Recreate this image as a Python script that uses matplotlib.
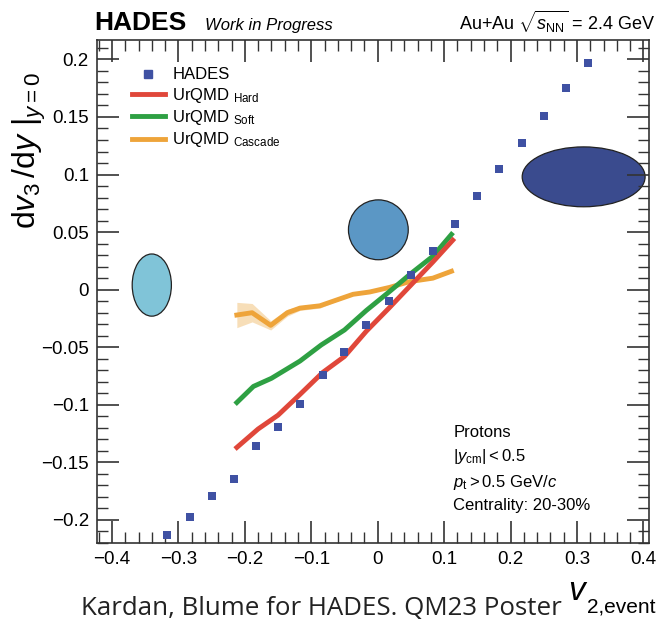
import numpy as np
import matplotlib
matplotlib.use("Agg")
import matplotlib.pyplot as plt
from matplotlib.patches import Ellipse
from matplotlib.lines import Line2D
from matplotlib.ticker import MultipleLocator

plt.rcParams['font.family'] = ['Liberation Sans', 'DejaVu Sans']
plt.rcParams['mathtext.fontset'] = 'custom'
plt.rcParams['mathtext.rm'] = 'Liberation Sans'
plt.rcParams['mathtext.it'] = 'Liberation Sans:italic'
plt.rcParams['mathtext.bf'] = 'Liberation Sans:bold'

# HADES data points
hades_x = [-0.317, -0.283, -0.25, -0.217, -0.183, -0.15, -0.117, -0.083, -0.05, -0.017,
           0.017, 0.05, 0.083, 0.117, 0.15, 0.183, 0.217, 0.25, 0.283, 0.317]
hades_y = [-0.213, -0.197, -0.179, -0.164, -0.136, -0.119, -0.099, -0.074, -0.054, -0.031,
           -0.010, 0.013, 0.034, 0.057, 0.081, 0.105, 0.127, 0.151, 0.175, 0.197]

# UrQMD curves
hard_x = [-0.212, -0.18, -0.15, -0.117, -0.083, -0.05, -0.017, 0.017, 0.05, 0.083, 0.113]
hard_y = [-0.137, -0.121, -0.109, -0.091, -0.072, -0.058, -0.036, -0.016, 0.004, 0.024, 0.043]
soft_x = [-0.212, -0.187, -0.16, -0.117, -0.085, -0.05, -0.017, 0.017, 0.05, 0.083, 0.111]
soft_y = [-0.098, -0.084, -0.077, -0.062, -0.048, -0.035, -0.018, -0.002, 0.014, 0.029, 0.048]
casc_x = [-0.212, -0.189, -0.161, -0.136, -0.117, -0.087, -0.062, -0.037, -0.012, 0.018, 0.048, 0.083, 0.111]
casc_y = [-0.022, -0.020, -0.031, -0.020, -0.016, -0.014, -0.009, -0.004, -0.002, 0.002, 0.007, 0.010, 0.016]
casc_err = [0.011, 0.008, 0.004, 0.003, 0.002, 0.002, 0.001, 0.001, 0.001, 0.001, 0.001, 0.001, 0.001]

# ellipses: centre x, centre y, width, height, colour
ell_x = [-0.34, 0.001, 0.31]
ell_y = [0.004, 0.052, 0.098]
ell_w = [0.059, 0.09, 0.185]
ell_h = [0.054, 0.052, 0.052]
ell_c = ['#80c4d8', '#5b97c5', '#3a4b8e']

fig = plt.figure(figsize=(6.62, 6.22), dpi=100)
ax = fig.add_axes([0.147, 0.127, 0.834, 0.809])

for cx, cy, w, h, c in zip(ell_x, ell_y, ell_w, ell_h, ell_c):
    ax.add_patch(Ellipse((cx, cy), w, h, facecolor=c, edgecolor='#222222', lw=0.9, zorder=1))

cy_ = np.array(casc_y)
ce = np.array(casc_err)
ax.fill_between(casc_x, cy_ - ce, cy_ + ce, color='#f3c98a', alpha=0.6, lw=0, zorder=2)
ax.plot(casc_x, casc_y, color='#eea43a', lw=3.5, zorder=3)
ax.plot(soft_x, soft_y, color='#2ea043', lw=3.5, zorder=3)
ax.plot(hard_x, hard_y, color='#e0473a', lw=3.5, zorder=3)
ax.scatter(hades_x, hades_y, marker='s', s=30, color='#3f51a3', zorder=4, lw=0)

ax.set_xlim(-0.422, 0.409)
ax.set_ylim(-0.22, 0.217)
ax.xaxis.set_minor_locator(MultipleLocator(0.02))
ax.yaxis.set_minor_locator(MultipleLocator(0.01))
ax.set_xticks([-0.4, -0.3, -0.2, -0.1, 0, 0.1, 0.2, 0.3, 0.4])
ax.set_xticklabels(['\u22120.4', '\u22120.3', '\u22120.2', '\u22120.1', '0', '0.1', '0.2', '0.3', '0.4'])
ax.set_yticks([-0.2, -0.15, -0.1, -0.05, 0, 0.05, 0.1, 0.15, 0.2])
ax.set_yticklabels(['\u22120.2', '\u22120.15', '\u22120.1', '\u22120.05', '0', '0.05', '0.1', '0.15', '0.2'])
ax.tick_params(which='both', direction='in', top=True, right=True, labelsize=13.5, color='#333333')
ax.tick_params(which='major', length=16, width=1.2, pad=6)
ax.tick_params(which='minor', length=8, width=1.0)
for s in ax.spines.values():
    s.set_linewidth(1.2)
    s.set_color('#333333')

ax.set_ylabel(r'$\mathrm{d}v_{3}\,/\mathrm{d}y\ |_{y=0}$', fontsize=23, labelpad=4)
ax.yaxis.set_label_coords(-0.09, 0.78)

handles = [Line2D([], [], marker='s', ls='none', color='#3f51a3', markersize=6),
           Line2D([], [], color='#e0473a', lw=3.5),
           Line2D([], [], color='#2ea043', lw=3.5),
           Line2D([], [], color='#eea43a', lw=3.5)]
labels = ['HADES', r'UrQMD $_{\mathrm{Hard}}$', r'UrQMD $_{\mathrm{Soft}}$', r'UrQMD $_{\mathrm{Cascade}}$']
ax.legend(handles, labels, loc='upper left', bbox_to_anchor=(0.035, 0.975), frameon=False,
          fontsize=12, handlelength=2.0, labelspacing=0.2, handletextpad=0.45)

fig.text(0.143, 0.952, 'HADES', fontsize=19, fontweight='bold', va='baseline')
fig.text(0.31, 0.952, 'Work in Progress', fontsize=12, style='italic', va='baseline')
fig.text(0.99, 0.952, r'Au+Au $\sqrt{s_{\mathrm{NN}}}$ = 2.4 GeV', fontsize=13, ha='right', va='baseline')

ax.text(0.645, 0.235, 'Protons\n' + r'$|y_{\mathrm{cm}}| < 0.5$' + '\n' + r'$p_{\mathrm{t}} > 0.5$ GeV/$c$' + '\nCentrality: 20-30%',
        transform=ax.transAxes, fontsize=12, va='top', ha='left', linespacing=1.5)

fig.text(0.122, 0.011, 'Kardan, Blume for HADES. QM23 Poster', fontsize=18.6, family=['Open Sans', 'DejaVu Sans'],
         color='#222222', va='baseline')
fig.text(0.858, 0.036, r'$v$', fontsize=24, va='baseline')
fig.text(0.886, 0.016, '2,event', fontsize=15, va='baseline')

fig.savefig('out.png', dpi=100)
